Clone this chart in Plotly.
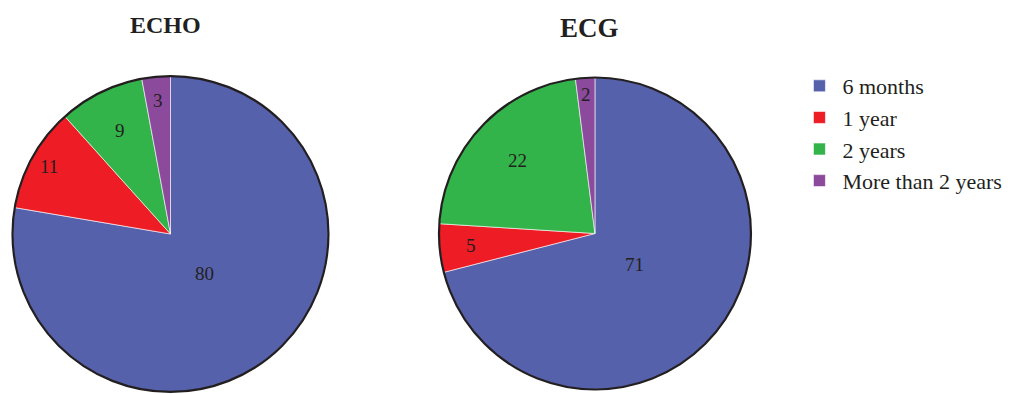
import math
import plotly.graph_objects as go

# Follow-up interval categories and counts per examination
categories = ["6 months", "1 year", "2 years", "More than 2 years"]
echo_values = [80, 11, 9, 3]
ecg_values = [71, 5, 22, 2]
chart_titles = ["ECHO", "ECG"]

slice_colors = ["#5661ac", "#ee1c25", "#33b44a", "#8b4a9c"]
ink = "#231f20"
serif = "Liberation Serif, Times New Roman, serif"

W, H = 1029, 394

domains = [
    dict(x=[0.0122, 0.3192], y=[0.0051, 0.8071]),
    dict(x=[0.4266, 0.7298], y=[0.0076, 0.8071]),
]
# radial placement of each value label, as a fraction of the pie radius
label_radius = [
    [0.33, 0.88, 0.73, 0.85],
    [0.32, 0.80, 0.68, 0.89],
]
title_sizes = [24, 27]
title_rows = [25, 28]

fig = go.Figure()

for values, dom, show in zip([echo_values, ecg_values], domains, [True, False]):
    fig.add_trace(go.Pie(
        labels=categories,
        values=values,
        domain=dom,
        sort=False,
        direction="clockwise",
        rotation=0,
        marker=dict(colors=slice_colors, line=dict(color="white", width=0.6)),
        textinfo="none",
        showlegend=show,
        hoverinfo="label+value",
    ))
    # dark outline around the whole pie
    fig.add_trace(go.Pie(
        labels=["outline"],
        values=[1],
        domain=dom,
        sort=False,
        marker=dict(colors=["rgba(0,0,0,0)"], line=dict(color=ink, width=2.2)),
        textinfo="none",
        showlegend=False,
        hoverinfo="skip",
    ))

# value labels placed along each slice's mid-angle
for values, dom, fracs in zip([echo_values, ecg_values], domains, label_radius):
    cx = (dom["x"][0] + dom["x"][1]) / 2 * W
    cy = (dom["y"][0] + dom["y"][1]) / 2 * H
    r = min((dom["x"][1] - dom["x"][0]) * W, (dom["y"][1] - dom["y"][0]) * H) / 2
    total = sum(values)
    start = 0.0
    for v, f in zip(values, fracs):
        mid = (start + v / 2) / total * 2 * math.pi
        start += v
        px = cx + f * r * math.sin(mid)
        py = cy + f * r * math.cos(mid)
        fig.add_annotation(
            text=str(v), x=px / W, y=py / H,
            xref="paper", yref="paper",
            xanchor="center", yanchor="middle",
            showarrow=False,
            font=dict(family=serif, size=19, color=ink),
        )

for title, dom, size, ypix in zip(chart_titles, domains, title_sizes, title_rows):
    fig.add_annotation(
        text=f"<b>{title}</b>",
        x=(dom["x"][0] + dom["x"][1]) / 2 - 0.005,
        y=1 - ypix / H,
        xref="paper", yref="paper",
        xanchor="center", yanchor="middle",
        showarrow=False,
        font=dict(family=serif, size=size, color=ink),
    )

fig.update_layout(
    width=W,
    height=H,
    margin=dict(l=0, r=0, t=0, b=0),
    paper_bgcolor="white",
    plot_bgcolor="white",
    legend=dict(
        x=0.774, y=0.835, xanchor="left", yanchor="top",
        font=dict(family=serif, size=22, color=ink),
        itemwidth=36,
        tracegroupgap=0,
        traceorder="normal",
    ),
)

fig.write_html("out.html")
